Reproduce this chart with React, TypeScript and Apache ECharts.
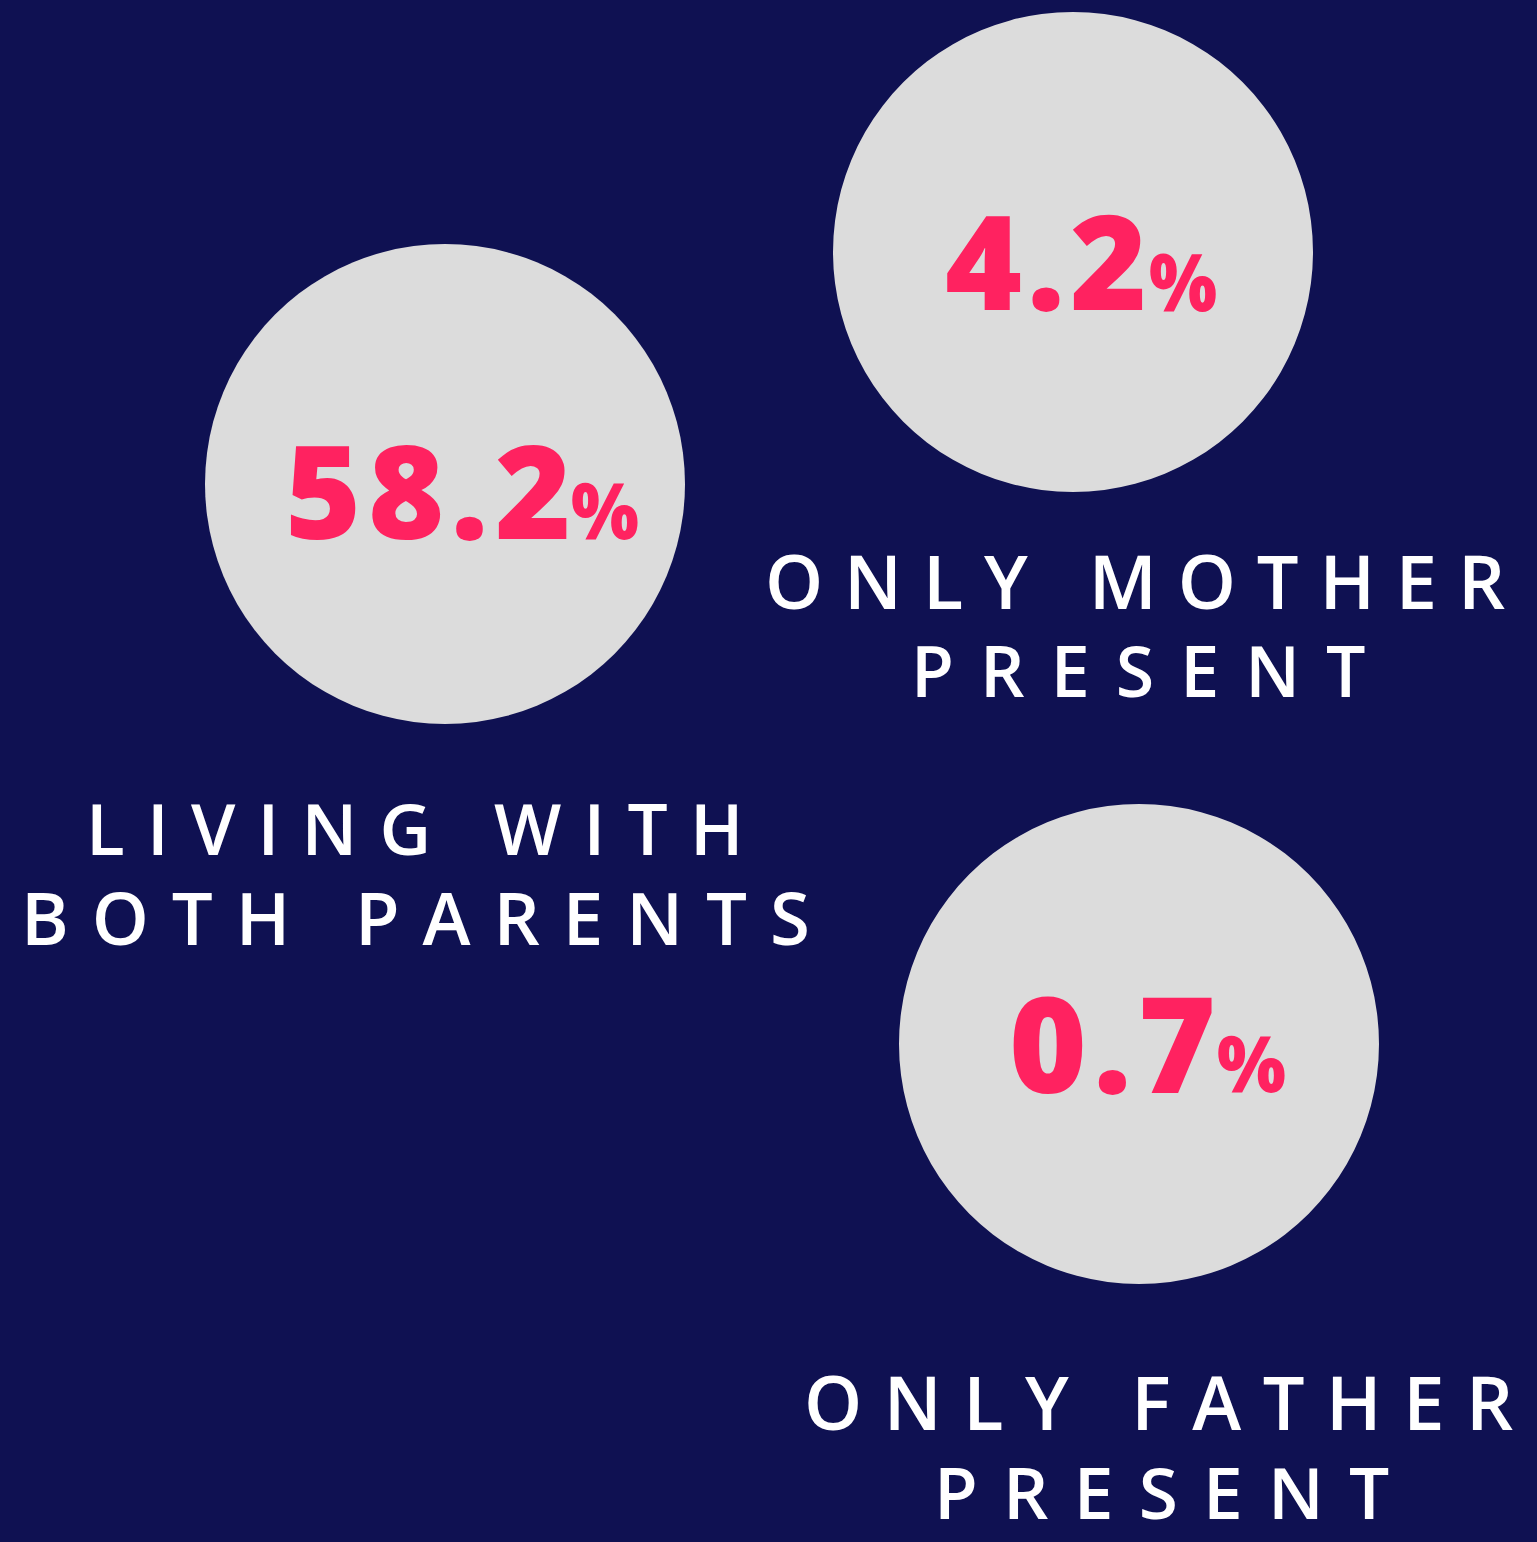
import React, { useEffect, useRef } from 'react';
import * as echarts from 'echarts';

// ---- data ----
const categories = ['Living with both parents', 'Only mother present', 'Only father present'];
const shares = [58.2, 4.2, 0.7];
const labelLines = [
  ['LIVING WITH', 'BOTH PARENTS'],
  ['ONLY MOTHER', 'PRESENT'],
  ['ONLY FATHER', 'PRESENT'],
];

// ---- layout / style ----
const W = 1537;
const H = 1542;
const BG = '#0F1152';
const CIRCLE = '#DCDCDC';
const PINK = '#FF2260';
const WHITE = '#FFFFFF';
const RADIUS = 240;
const NUM_FONT = "'Open Sans'";
const NUM_WEIGHT = 800;
const LBL_FONT = "'Open Sans'";
const LBL_WEIGHT = 600;
const CENTRAL_SHIFT = 0.088; // svg "central" vs canvas "middle" baseline, in em

type Box = [number, number, number, number]; // inkLeft, inkRight, inkTop, inkBottom
const layout: { cx: number; cy: number; num: Box; pct: Box; lines: Box[] }[] = [
  { cx: 445, cy: 484, num: [290, 567, 444, 539], pct: [572, 638, 482, 539], lines: [[92, 737, 803, 855], [27, 807, 892, 945]] },
  { cx: 1073, cy: 252, num: [947, 1143, 214, 310], pct: [1150, 1216, 253, 311], lines: [[769, 1505, 555, 609], [917, 1365, 646, 697]] },
  { cx: 1139, cy: 1044, num: [1013, 1212, 996, 1093], pct: [1218, 1285, 1035, 1092], lines: [[808, 1513, 1376, 1430], [940, 1389, 1467, 1519]] },
];

let measureCtx: CanvasRenderingContext2D | null = null;
function fit(text: string, family: string, weight: number, box: Box) {
  if (!measureCtx) measureCtx = document.createElement('canvas').getContext('2d');
  const ctx = measureCtx!;
  const [L, R, T, B] = box;
  ctx.textBaseline = 'alphabetic';
  ctx.font = `${weight} 100px ${family}`;
  let m = ctx.measureText(text);
  const h100 = m.actualBoundingBoxAscent + m.actualBoundingBoxDescent;
  const size = ((B - T) / h100) * 100;
  ctx.font = `${weight} ${size}px ${family}`;
  ctx.textBaseline = 'middle';
  m = ctx.measureText(text);
  const n = Array.from(text).length;
  const inkW = m.actualBoundingBoxLeft + m.actualBoundingBoxRight;
  const spacing = n > 1 ? (R - L - inkW) / (n - 1) : 0;
  const scaleX = n > 1 ? 1 : (R - L) / inkW;
  const x = L + m.actualBoundingBoxLeft * scaleX;
  const y = B - m.actualBoundingBoxDescent - CENTRAL_SHIFT * size;
  return { size, spacing, scaleX, x, y };
}

export default function App() {
  const ref = useRef<HTMLDivElement>(null);

  useEffect(() => {
    if (!ref.current) return;
    const chart = echarts.init(ref.current, undefined, { renderer: 'svg', width: W, height: H });
    const elements: any[] = [];
    const spacingSpecs: { text: string; spacing: number; used: boolean }[] = [];

    const addText = (text: string, family: string, weight: number, fill: string, box: Box) => {
      const f = fit(text, family, weight, box);
      spacingSpecs.push({ text, spacing: f.spacing, used: false });
      elements.push({
        type: 'text',
        silent: true,
        x: f.x,
        y: f.y,
        scaleX: f.scaleX,
        style: {
          text,
          x: 0,
          y: 0,
          fill,
          fontSize: f.size,
          fontFamily: family,
          fontWeight: weight,
          textAlign: 'left',
          textVerticalAlign: 'middle',
          align: 'left',
          verticalAlign: 'middle',
        },
      });
    };

    categories.forEach((cat, i) => {
      const lay = layout[i];
      elements.push({
        type: 'circle',
        name: cat,
        shape: { cx: lay.cx, cy: lay.cy, r: RADIUS },
        style: { fill: CIRCLE },
      });
      addText(String(shares[i]), NUM_FONT, NUM_WEIGHT, PINK, lay.num);
      addText('%', NUM_FONT, NUM_WEIGHT, PINK, lay.pct);
      labelLines[i].forEach((line, j) => addText(line, LBL_FONT, LBL_WEIGHT, WHITE, lay.lines[j]));
    });

    chart.setOption({
      animation: false,
      backgroundColor: BG,
      graphic: { elements },
    });

    const applySpacing = () => {
      if (!ref.current) return;
      spacingSpecs.forEach((s) => (s.used = false));
      const texts = ref.current.querySelectorAll('text');
      texts.forEach((t) => {
        const content = t.textContent || '';
        const spec = spacingSpecs.find((s) => !s.used && s.text === content);
        if (spec) {
          spec.used = true;
          (t as SVGTextElement).style.letterSpacing = `${spec.spacing}px`;
        }
      });
    };
    chart.getZr().flush();
    applySpacing();
    chart.on('finished', applySpacing);
    const raf = requestAnimationFrame(applySpacing);

    return () => {
      cancelAnimationFrame(raf);
      chart.dispose();
    };
  }, []);

  return (
    <div
      ref={ref}
      style={{ position: 'fixed', left: 0, top: 0, width: W, height: H, background: BG }}
    />
  );
}
